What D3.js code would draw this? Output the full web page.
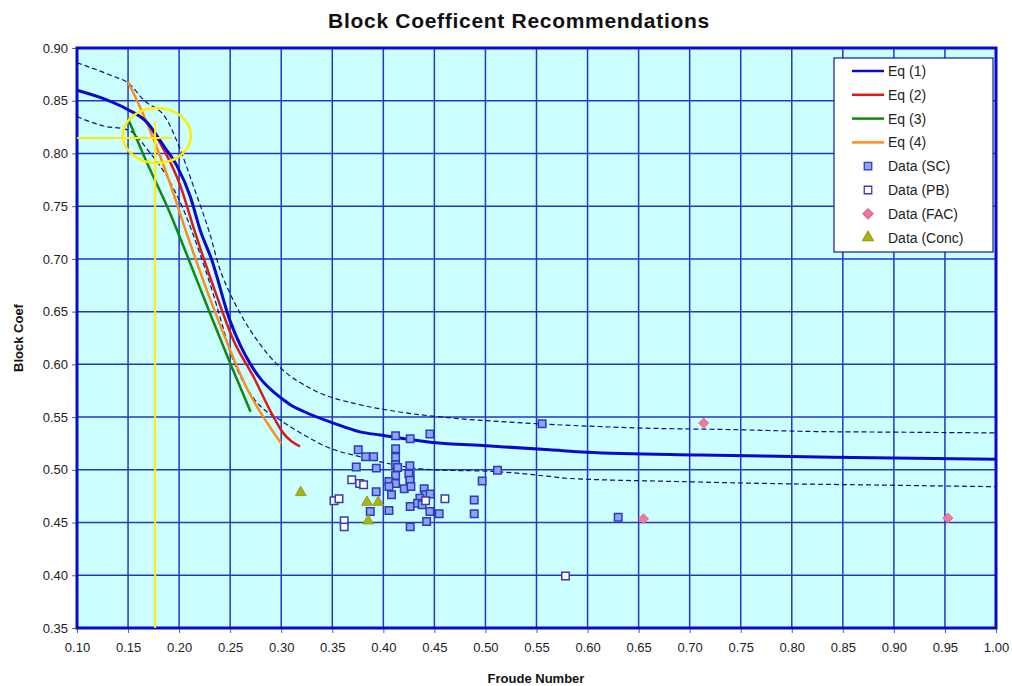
<!DOCTYPE html>
<html>
<head>
<meta charset="utf-8">
<script src="https://cdn.jsdelivr.net/npm/d3@7"></script>
<style>
  body { margin: 0; background: #fff; }
  text { font-family: "Liberation Sans", Arial, sans-serif; }
</style>
</head>
<body>
<script>
// curves: [froude, block coef]
const eq1 = [[0.10,0.860],[0.126,0.852],[0.15,0.8415],[0.168,0.830],[0.185,0.807],[0.198,0.788],
  [0.211,0.759],[0.2206,0.7275],[0.232,0.699],[0.25,0.641],[0.26,0.618],[0.27,0.600],[0.28,0.586],
  [0.29,0.576],[0.30,0.568],[0.31,0.561],[0.322,0.5553],[0.351,0.5443],[0.377,0.536],[0.397,0.533],
  [0.448,0.526],[0.501,0.5228],[0.563,0.519],[0.599,0.5167],[0.71,0.514],[0.84,0.512],[1.0,0.510]];
const eq1Upper = [[0.10,0.886],[0.136,0.873],[0.15,0.867],[0.165,0.851],[0.188,0.832],[0.201,0.804],
  [0.214,0.769],[0.230,0.724],[0.240,0.690],[0.25,0.667],[0.26,0.648],[0.276,0.6234],[0.299,0.597],
  [0.331,0.576],[0.377,0.5617],[0.413,0.5553],[0.468,0.549],[0.514,0.5458],[0.553,0.5436],[0.6575,0.5395],
  [0.748,0.538],[0.817,0.5364],[0.905,0.5357],[1.0,0.535]];
const eq1Lower = [[0.10,0.835],[0.126,0.826],[0.149,0.8226],[0.172,0.800],[0.19,0.775],[0.205,0.745],
  [0.22,0.706],[0.233,0.668],[0.243,0.635],[0.25,0.612],[0.263,0.583],[0.279,0.561],[0.299,0.5472],
  [0.325,0.5315],[0.3475,0.5206],[0.377,0.5125],[0.403,0.5063],[0.448,0.500],[0.507,0.4985],[0.563,0.4937],
  [0.579,0.492],[0.684,0.489],[0.798,0.4867],[0.873,0.4857],[1.0,0.484]];
const eq2 = [[0.15,0.8415],[0.168,0.830],[0.185,0.8036],[0.201,0.770],[0.215,0.727],[0.237,0.6645],
  [0.253,0.6234],[0.2727,0.5885],[0.2922,0.5506],[0.302,0.5348],[0.31,0.527],[0.3184,0.5222]];
const eq3 = [[0.15,0.833],[0.17,0.788],[0.19,0.746],[0.21,0.698],[0.23,0.649],[0.25,0.601],[0.27,0.555]];
const eq4 = [[0.15,0.868],[0.168,0.830],[0.191,0.772],[0.2075,0.724],[0.2335,0.654],[0.266,0.578],[0.30,0.525]];

// data points
const dataSC = [[0.3754,0.519],[0.3827,0.5123],[0.3905,0.5123],[0.3735,0.5026],[0.3931,0.5016],
  [0.412,0.5323],[0.412,0.52],[0.412,0.512],[0.412,0.5047],[0.414,0.5022],[0.4263,0.5294],[0.426,0.5038],
  [0.412,0.4946],[0.4263,0.4946],[0.4055,0.4889],[0.412,0.487],[0.4263,0.4858],[0.4055,0.4842],
  [0.4205,0.482],[0.393,0.4791],[0.408,0.4763],[0.3872,0.4604],[0.4055,0.4614],[0.4263,0.4652],
  [0.4263,0.4459],[0.4456,0.5339],[0.425,0.496],[0.426,0.4902],[0.427,0.4842],[0.44,0.482],
  [0.4414,0.4763],[0.4459,0.477],[0.4358,0.4731],[0.4336,0.4684],[0.438,0.4668],[0.4456,0.4604],
  [0.4547,0.4583],[0.4424,0.451],[0.489,0.4713],[0.489,0.4583],[0.4968,0.4893],[0.5118,0.4997],
  [0.5555,0.5436],[0.63,0.4551]];
const dataPB = [[0.369,0.4905],[0.3768,0.487],[0.3807,0.4858],[0.3517,0.4707],[0.3566,0.4726],
  [0.3617,0.4516],[0.3617,0.4459],[0.4414,0.4707],[0.4603,0.4726],[0.5784,0.3994]];
const dataFAC = [[0.7137,0.5443],[0.6548,0.4535],[0.9528,0.4542]];
const dataConc = [[0.3191,0.4785],[0.384,0.4693],[0.395,0.4693],[0.3852,0.4516]];

const xTicks = d3.range(0.10, 1.0001, 0.05);
const yTicks = d3.range(0.35, 0.9001, 0.05);

// yellow annotation (circle + guide lines)
const markCenter = [0.1782, 0.817];
const markRadius = [0.0333, 0.0261];
const markH = [[0.10, 0.8147], [0.1929, 0.8147]];
const markV = [[0.1765, 0.8305], [0.1765, 0.35]];

const W = 1012, H = 686;
const m = {left: 77, right: 996, top: 48, bottom: 628};

const svg = d3.select("body").append("svg")
  .attr("width", W).attr("height", H);

const x = d3.scaleLinear().domain([0.10, 1.00]).range([m.left, m.right]);
const y = d3.scaleLinear().domain([0.35, 0.90]).range([m.bottom, m.top]);

svg.append("rect")
  .attr("x", m.left).attr("y", m.top)
  .attr("width", m.right - m.left).attr("height", m.bottom - m.top)
  .attr("fill", "#ccffff");

// grid
svg.append("g").selectAll("line").data(xTicks).enter().append("line")
  .attr("x1", d => x(d)).attr("x2", d => x(d))
  .attr("y1", m.top).attr("y2", m.bottom)
  .attr("stroke", "#2436c8").attr("stroke-width", 1.5);
svg.append("g").selectAll("line").data(yTicks).enter().append("line")
  .attr("x1", m.left).attr("x2", m.right)
  .attr("y1", d => y(d)).attr("y2", d => y(d))
  .attr("stroke", "#2436c8").attr("stroke-width", 1.5);

// axes
const xAxis = svg.append("g").attr("transform", `translate(0,${m.bottom})`)
  .call(d3.axisBottom(x).tickValues(xTicks).tickFormat(d3.format(".2f")).tickSize(5).tickPadding(10));
const yAxis = svg.append("g").attr("transform", `translate(${m.left},0)`)
  .call(d3.axisLeft(y).tickValues(yTicks).tickFormat(d3.format(".2f")).tickSize(5).tickPadding(4));
[xAxis, yAxis].forEach(a => {
  a.select(".domain").remove();
  a.selectAll(".tick line").attr("stroke", "#666");
  a.selectAll(".tick text").attr("fill", "#222").style("font-size", "13px")
    .style("font-family", "'Liberation Sans', Arial, sans-serif");
});

// frame
svg.append("rect")
  .attr("x", m.left).attr("y", m.top)
  .attr("width", m.right - m.left).attr("height", m.bottom - m.top)
  .attr("fill", "none").attr("stroke", "#0a0acc").attr("stroke-width", 3);

const line = d3.line().x(d => x(d[0])).y(d => y(d[1])).curve(d3.curveMonotoneX);
const plot = svg.append("g");

plot.append("path").datum(eq1Upper).attr("d", line)
  .attr("fill", "none").attr("stroke", "#10107a").attr("stroke-width", 1.2).attr("stroke-dasharray", "5,3");
plot.append("path").datum(eq1Lower).attr("d", line)
  .attr("fill", "none").attr("stroke", "#10107a").attr("stroke-width", 1.2).attr("stroke-dasharray", "5,3");
plot.append("path").datum(eq3).attr("d", line)
  .attr("fill", "none").attr("stroke", "#118811").attr("stroke-width", 2.5);
plot.append("path").datum(eq4).attr("d", line)
  .attr("fill", "none").attr("stroke", "#ff8c1a").attr("stroke-width", 2.5);
plot.append("path").datum(eq2).attr("d", line)
  .attr("fill", "none").attr("stroke", "#e01818").attr("stroke-width", 2.5);
plot.append("path").datum(eq1).attr("d", line)
  .attr("fill", "none").attr("stroke", "#0a0acc").attr("stroke-width", 3);

// yellow annotation
plot.append("ellipse")
  .attr("cx", x(markCenter[0])).attr("cy", y(markCenter[1]))
  .attr("rx", x(markCenter[0] + markRadius[0]) - x(markCenter[0]))
  .attr("ry", y(markCenter[1]) - y(markCenter[1] + markRadius[1]))
  .attr("fill", "none").attr("stroke", "#ffee00").attr("stroke-width", 2.5);
[markH, markV].forEach(seg => {
  plot.append("line")
    .attr("x1", x(seg[0][0])).attr("y1", y(seg[0][1]))
    .attr("x2", x(seg[1][0])).attr("y2", y(seg[1][1]))
    .attr("stroke", "#ffee00").attr("stroke-width", 2);
});

// markers
const sq = d3.symbol().type(d3.symbolSquare).size(56);
const dia = "M0,-5L5,0L0,5L-5,0Z";
const tri = d3.symbol().type(d3.symbolTriangle).size(50);

function drawPts(pts, sym, fill, stroke, sw) {
  plot.append("g").selectAll("path").data(pts).enter().append("path")
    .attr("transform", d => `translate(${x(d[0])},${y(d[1])})`)
    .attr("d", sym)
    .attr("fill", fill).attr("stroke", stroke).attr("stroke-width", sw);
}
drawPts(dataSC, sq, "#8fa3ee", "#2a3cc4", 1.5);
drawPts(dataPB, sq, "#ffffff", "#3a3ab4", 1.5);
drawPts(dataFAC, dia, "#f07a9a", "#e06888", 1);
drawPts(dataConc, tri, "#a8b21a", "#98a010", 1);

// legend
const lg = svg.append("g");
lg.append("rect").attr("x", 834).attr("y", 58).attr("width", 159).attr("height", 194)
  .attr("fill", "#fff").attr("stroke", "#1a1a88").attr("stroke-width", 1.2);
const legendItems = [
  {name: "Eq (1)", type: "line", color: "#0a0acc"},
  {name: "Eq (2)", type: "line", color: "#e01818"},
  {name: "Eq (3)", type: "line", color: "#118811"},
  {name: "Eq (4)", type: "line", color: "#ff8c1a"},
  {name: "Data (SC)", type: "sym", sym: sq, fill: "#8fa3ee", stroke: "#2a3cc4"},
  {name: "Data (PB)", type: "sym", sym: sq, fill: "#ffffff", stroke: "#3a3ab4"},
  {name: "Data (FAC)", type: "sym", sym: dia, fill: "#f07a9a", stroke: "#e06888"},
  {name: "Data (Conc)", type: "sym", sym: tri, fill: "#a8b21a", stroke: "#98a010"}
];
legendItems.forEach((d, i) => {
  const yy = 71 + i * 23.8;
  if (d.type === "line") {
    lg.append("line").attr("x1", 852).attr("x2", 884).attr("y1", yy).attr("y2", yy)
      .attr("stroke", d.color).attr("stroke-width", 2.5);
  } else {
    lg.append("path").attr("transform", `translate(868,${yy})`).attr("d", d.sym)
      .attr("fill", d.fill).attr("stroke", d.stroke).attr("stroke-width", 1.3);
  }
  lg.append("text").attr("x", 888).attr("y", yy + 5).text(d.name)
    .attr("font-size", 14).attr("fill", "#222");
});

// titles
svg.append("text").attr("x", 519).attr("y", 28).attr("text-anchor", "middle")
  .attr("font-size", 21).attr("font-weight", "bold").attr("fill", "#111")
  .attr("letter-spacing", 0.7)
  .text("Block Coefficent Recommendations");
svg.append("text").attr("x", 536).attr("y", 683).attr("text-anchor", "middle")
  .attr("font-size", 13).attr("font-weight", "bold").attr("fill", "#111")
  .text("Froude Number");
svg.append("text").attr("transform", "translate(23,338) rotate(-90)").attr("text-anchor", "middle")
  .attr("font-size", 13).attr("font-weight", "bold").attr("fill", "#111")
  .text("Block Coef");
</script>
</body>
</html>
